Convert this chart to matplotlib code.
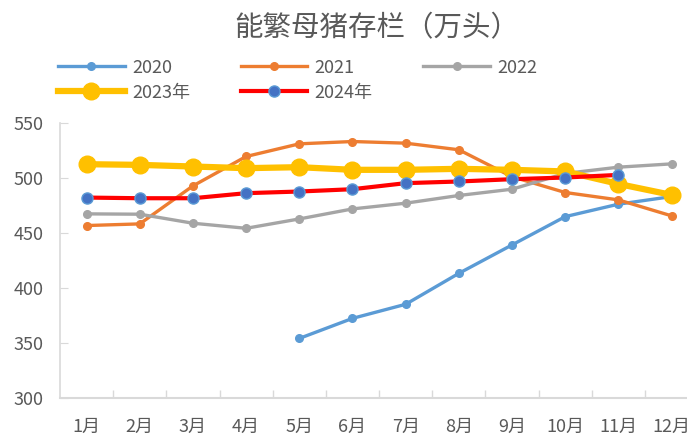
import numpy as np
import matplotlib
matplotlib.use("Agg")
import matplotlib.pyplot as plt
from matplotlib.ticker import FixedLocator

plt.rcParams['font.family'] = ['Noto Sans CJK SC', 'DejaVu Sans']

months = ['1月', '2月', '3月', '4月', '5月', '6月', '7月', '8月', '9月', '10月', '11月', '12月']
nan = np.nan
sow_2020 = [nan, nan, nan, nan, 354.2, 372.4, 385.2, 413.3, 439.1, 464.8, 476.1, 483.0]
sow_2021 = [456.7, 458.2, 492.7, 519.4, 530.9, 533.0, 531.5, 525.5, 501.0, 486.7, 480.0, 465.5]
sow_2022 = [467.3, 467.0, 458.8, 454.2, 462.7, 471.8, 477.0, 484.0, 489.7, 504.0, 509.7, 512.7]
sow_2023 = [512.4, 511.8, 510.3, 508.8, 509.7, 507.3, 507.3, 508.2, 507.3, 505.8, 494.5, 484.5]
sow_2024 = [482.1, 481.5, 481.5, 486.1, 487.6, 489.7, 495.2, 496.7, 498.8, 500.3, 502.7, nan]

gray = '#595959'
x = np.arange(len(months))

fig = plt.figure(figsize=(6.87, 4.37), dpi=100)
ax = fig.add_axes([0.0873, 0.089, 0.929, 0.63])

l20, = ax.plot(x, sow_2020, color='#5B9BD5', lw=2.4, marker='o', ms=5.5, label='2020')
l21, = ax.plot(x, sow_2021, color='#ED7D31', lw=2.4, marker='o', ms=5.5, label='2021')
l22, = ax.plot(x, sow_2022, color='#A5A5A5', lw=2.4, marker='o', ms=5.5, label='2022')
l23, = ax.plot(x, sow_2023, color='#FFC000', lw=4.5, marker='o', ms=12, label='2023年')
l24, = ax.plot(x, sow_2024, color='#FF0000', lw=3, marker='o', ms=8,
               markerfacecolor='#4472C4', markeredgecolor='#5B9BD5', label='2024年')

ax.set_xlim(-0.5, 11.5)
ax.set_ylim(300, 550)
ax.set_yticks(np.arange(300, 551, 50))
ax.set_xticks(x)
ax.set_xticklabels(months)
ax.xaxis.set_minor_locator(FixedLocator(np.arange(0.5, 11.5, 1)))
ax.tick_params(axis='x', which='major', length=0, pad=14, labelsize=13, colors=gray)
ax.tick_params(axis='x', which='minor', length=6, direction='in', color='#D9D9D9', width=1)
ax.tick_params(axis='y', length=6, direction='in', labelsize=13, colors=gray, pad=12)
ax.tick_params(axis='y', which='major', color='#D9D9D9')

for s in ['top', 'right']:
    ax.spines[s].set_visible(False)
ax.spines['left'].set_color('#D9D9D9')
ax.spines['bottom'].set_color('#D9D9D9')
ax.spines['left'].set_linewidth(1.2)
ax.spines['bottom'].set_linewidth(1.5)

fig.text(0.549, 0.935, '能繁母猪存栏（万头）', ha='center', va='center',
         fontsize=20.5, color=gray)

# row-wise order for a 3-column legend
handles = [l20, l23, l21, l24, l22]
fig.legend(handles=handles, labels=[h.get_label() for h in handles],
           loc='upper left', bbox_to_anchor=(0.0844, 0.866), ncol=3, frameon=False,
           fontsize=13, labelcolor=gray, handlelength=3.7, handletextpad=0.4,
           columnspacing=2.8, labelspacing=0.4, borderaxespad=0, borderpad=0)

fig.savefig('out.png', dpi=100)
